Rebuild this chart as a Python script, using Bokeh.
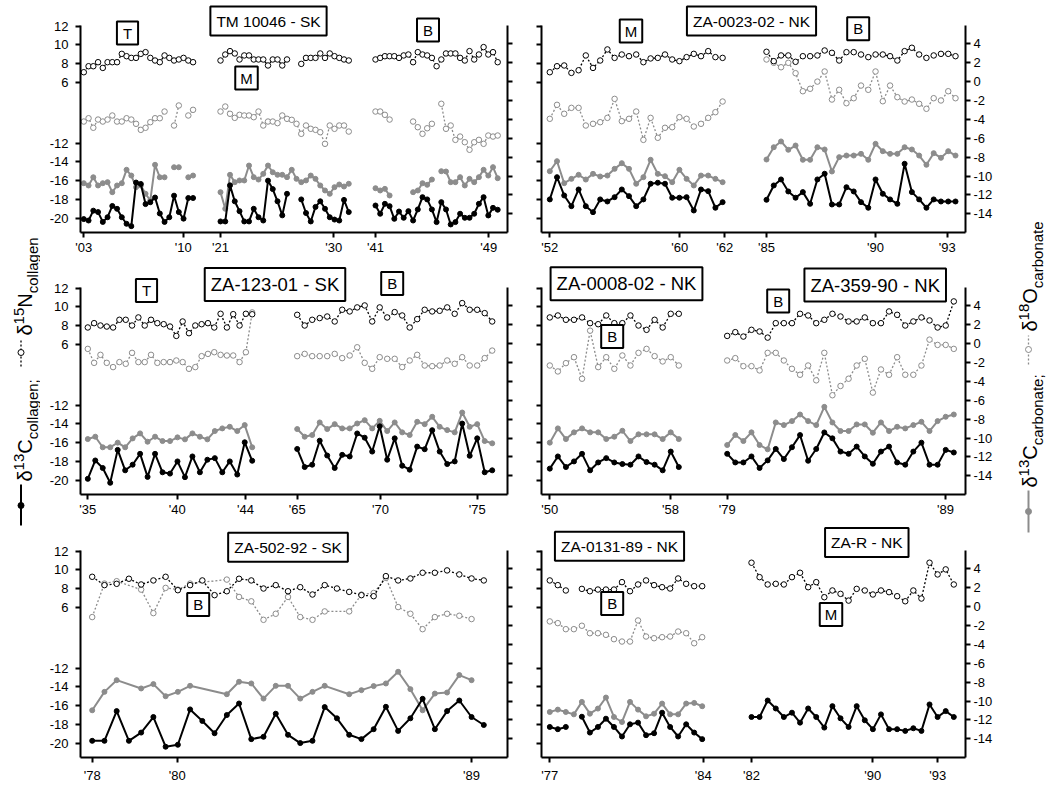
import numpy as np
from bokeh.plotting import figure
from bokeh.models import Range1d, LinearAxis, FixedTicker, Label
from bokeh.layouts import row, column
from bokeh.embed import file_html
from bokeh.resources import INLINE
from bokeh.core.properties import value

FONT = "Liberation Sans"
GRAY = "#8c8c8c"

# ---------------- axis tick values ----------------
N_TICKS = [12, 10, 8, 6]
C_TICKS = [-12, -14, -16, -18, -20]
CARB_TICKS = [4, 2, 0, -2, -4, -6, -8, -10, -12, -14]

# ---------------- Panel 1: TM 10046 - SK ----------------
P1_SEGS = [(3.3, 112.55), (140, 268.25), (295, 417.2)]
P1_TICKS = [3.3, 102.7, 140, 253.3, 295, 408.3]
P1_TICK_LABELS = ["'03", "'10", "'21", "'30", "'41", "'49"]
P1A_C = [-20.1, -20.25, -19.2, -19.35, -20.4, -19.9, -18.7, -19.0, -19.9, -20.6, -20.85, -16.2, -16.35, -18.5, -18.3, -17.8, -19.5, -20.4, -19.9, -17.6, -19.35, -20.05, -17.85, -17.85]
P1A_N = [7.07, 7.71, 7.71, 8.14, 7.53, 8.14, 8.14, 8.14, 9.03, 8.78, 8.6, 8.6, 9.03, 9.21, 8.6, 8.32, 8.14, 8.86, 8.6, 8.32, 8.43, 8.6, 8.32, 8.14]
P1A_C13 = [-10.76, -11.0, -10.13, -11.0, -10.76, -10.65, -11.71, -11.0, -10.76, -9.34, -9.95, -11.18, -11.0, -11.88, -12.59, -8.81, -10.13, -10.13, None, -9.07, -9.07, None, -10.13, -9.95]
P1A_O18 = [-4.23, -3.88, -4.89, -4.02, -4.23, -4.02, -3.59, -4.23, -4.23, -3.88, -4.02, -4.47, -5.11, -4.89, -4.3, -3.88, -3.88, -3.17, None, -4.65, -2.53, None, -3.59, -2.99]
P1B_C = [-20.35, -20.35, -16.5, -18.2, -19.25, -20.35, -20.35, -19.0, -19.9, -20.25, -16.0, -16.9, -18.2, -19.7, -17.4, None, None, -18.0, -19.45, -20.35, -18.8, -18.2, -19.0, -19.9, -20.15, -20.25, -18.05, -19.35]
P1B_N = [8.32, 8.96, 9.32, 9.07, 8.43, 8.86, 8.86, 8.43, 8.43, 8.43, 7.79, 8.43, 8.43, 7.79, 8.43, None, None, 7.96, 8.6, 8.6, 8.6, 9.07, 8.6, 9.07, 8.78, 8.6, 8.43, 8.32]
P1B_C13 = [-11.71, -13.47, -9.87, -10.65, -10.47, -10.47, -8.89, -10.12, -10.37, -9.77, -8.89, -9.6, -9.87, -9.87, -10.12, -9.34, -10.3, -10.65, -10.47, -9.95, -10.3, -11.0, -11.53, -11.88, -11.18, -10.9, -11.11, -10.82]
P1B_O18 = [-3.17, -2.64, -3.41, -3.84, -3.52, -3.59, -3.59, -3.77, -3.17, -4.65, -4.23, -4.23, -4.4, -3.59, -3.94, -4.05, -4.47, -5.53, -4.65, -5.0, -5.11, -5.36, -6.59, -4.65, -5.0, -4.65, -4.65, -5.29]
P1C_C = [-18.65, -19.53, -18.47, -18.72, -20.07, -19.29, -19.96, -19.25, -20.25, -19.07, -17.76, -18.0, -19.07, -20.42, -18.29, -19.07, -20.67, -20.42, -19.53, -19.96, -19.96, -19.53, -18.47, -17.76, -19.71, -18.9, -19.1]
P1C_N = [8.43, 8.6, 8.78, 8.78, 8.78, 8.6, 8.86, 8.96, 8.14, 9.21, 8.96, 8.86, 8.6, 7.71, 8.43, 9.07, 9.07, 9.07, 8.6, 8.32, 9.32, 8.43, 8.96, 9.75, 8.96, 9.21, 8.14]
P1C_C13 = [-11.29, -11.53, -11.36, -12.06, None, None, None, None, -11.71, -11.53, -10.76, -10.93, -10.37, None, -9.49, -9.52, -10.65, -10.65, -10.12, -11.0, -10.3, -10.65, -10.12, -9.34, -9.95, -9.06, -10.23]
P1C_O18 = [-3.17, -3.17, -3.52, -4.02, None, None, None, None, -4.23, -4.83, -5.53, -4.94, -4.47, None, -2.35, -5.0, -4.65, -6.17, -5.82, -6.42, -7.22, -6.42, -6.17, -6.59, -5.71, -5.82, -5.71]

# ---------------- Panel 2: ZA-0023-02 - NK ----------------
P2_SEGS = [(8.3, 181.1), (225, 414)]
P2_TICKS = [8.3, 138.3, 183.3, 225, 334, 405.7]
P2_TICK_LABELS = ["'52", "'60", "'62", "'85", "'90", "'93"]
P2A_C = [-18.0, -15.63, -17.58, -18.72, -16.94, -18.72, -19.36, -18.0, -18.22, -17.76, -16.94, -17.65, -18.72, -18.0, -16.33, -16.22, -16.33, -17.82, -17.82, -17.76, -19.18, -16.94, -17.12, -18.89, -18.29]
P2A_N = [7.07, 7.71, 7.79, 7.0, 7.28, 8.86, 7.53, 8.32, 9.5, 8.6, 8.96, 8.78, 8.96, 8.14, 8.54, 8.6, 8.96, 8.43, 8.25, 8.68, 9.03, 8.78, 9.32, 8.68, 8.6]
P2A_C13 = [-9.49, -8.43, -10.76, -10.3, -9.87, -10.37, -9.77, -10.05, -9.95, -9.24, -8.64, -9.24, -10.82, -10.12, -8.28, -9.77, -10.02, -10.65, -9.34, -10.3, -11.0, -9.95, -9.95, -10.3, -10.65]
P2A_O18 = [-3.94, -2.46, -3.41, -2.78, -2.78, -4.65, -4.47, -4.3, -3.84, -1.83, -4.19, -3.94, -3.17, -6.17, -3.84, -5.95, -4.89, -4.83, -3.77, -3.94, -4.76, -4.47, -3.84, -3.24, -2.11]
P2B_C = [-18.04, -16.51, -15.87, -17.15, -17.82, -17.22, -18.47, -15.87, -15.26, -18.54, -18.54, -16.7, -17.15, -18.29, -18.89, -15.87, -17.4, -18.0, -18.47, -14.2, -17.22, -18.0, -18.89, -18.0, -18.22, -18.22, -18.22]
P2B_N = [9.25, 8.25, 8.86, 8.86, 8.18, 8.78, 8.78, 8.86, 9.39, 9.14, 8.32, 9.21, 9.21, 8.96, 8.68, 8.96, 8.96, 8.78, 8.32, 9.32, 9.68, 8.96, 8.6, 8.86, 9.03, 9.03, 8.78]
P2B_C13 = [-8.25, -6.95, -6.34, -7.22, -6.77, -8.28, -8.28, -6.95, -7.19, -9.52, -8.0, -7.83, -7.83, -7.65, -8.28, -6.59, -7.37, -7.65, -7.65, -6.95, -7.19, -7.83, -8.81, -7.58, -8.07, -7.37, -7.83]
P2B_O18 = [2.34, 1.99, 1.52, 1.99, 0.89, -1.02, -0.76, 0.0, 1.07, -1.9, -0.87, -2.29, -1.76, -0.42, -0.87, 1.07, -2.08, -0.42, -1.65, -2.11, -1.9, -2.35, -2.88, -1.76, -2.0, -1.02, -1.76]

# ---------------- Panel 3: ZA-123-01 - SK ----------------
P3_SEGS = [(7.3, 171.7), (216.7, 411.7)]
P3_TICKS = [7.3, 96.7, 165, 216.7, 300, 396.7]
P3_TICK_LABELS = ["'35", "'40", "'44", "'65", "'70", "'75"]
P3A_C = [-19.86, -17.9, -18.7, -20.28, -16.77, -18.95, -18.35, -17.19, -19.65, -17.19, -19.16, -19.3, -18.0, -19.68, -17.47, -19.16, -17.82, -17.65, -19.16, -18.0, -19.4, -15.96, -17.93]
P3A_N = [7.79, 8.25, 8.0, 7.89, 7.79, 8.61, 8.61, 8.0, 8.86, 8.0, 8.61, 8.25, 8.14, 7.89, 6.89, 8.43, 7.18, 8.0, 8.14, 8.25, 7.79, 9.25, 7.79, 9.21, 8.0, 9.25, 9.2]
P3A_C13 = [-10.11, -9.86, -10.98, -10.98, -10.49, -10.98, -10.04, -9.51, -10.39, -9.86, -10.32, -10.32, -9.93, -10.14, -9.51, -9.86, -10.14, -9.26, -8.98, -8.81, -9.26, -8.63, -10.98]
P3A_O18 = [-0.56, -2.04, -1.19, -2.04, -2.49, -1.96, -2.14, -0.98, -1.96, -1.96, -1.19, -2.04, -1.96, -1.96, -1.79, -1.96, -2.67, -2.49, -1.33, -1.09, -0.91, -1.19, -1.26, -1.26, -1.96, -0.91, 3.3]
P3B_C = [-16.67, -18.6, -18.35, -15.79, -17.37, -18.7, -17.3, -17.47, -15.02, -15.47, -16.95, -14.25, -17.82, -15.54, -18.46, -18.88, -16.42, -16.7, -14.67, -16.95, -18.28, -18.0, -13.96, -17.4, -15.54, -19.16, -18.95]
P3B_N = [9.14, 8.0, 8.61, 8.79, 8.96, 8.43, 9.68, 9.5, 9.93, 10.14, 8.43, 9.93, 8.86, 9.43, 9.07, 7.79, 8.68, 9.68, 9.5, 9.57, 9.93, 9.25, 10.39, 9.68, 9.68, 9.32, 8.43]
P3B_C13 = [-9.05, -9.86, -9.68, -8.35, -9.05, -8.53, -8.98, -8.98, -8.46, -8.11, -8.98, -8.18, -9.26, -8.35, -9.4, -9.68, -8.28, -8.53, -7.75, -8.81, -9.16, -9.4, -7.3, -8.81, -8.53, -10.32, -10.56]
P3B_O18 = [-1.33, -1.09, -1.33, -1.33, -1.33, -1.09, -1.54, -1.26, -0.39, -2.04, -2.67, -1.44, -1.61, -1.61, -2.49, -1.79, -1.19, -2.32, -2.39, -2.32, -1.79, -2.14, -1.44, -2.32, -2.32, -1.54, -0.74]

# ---------------- Panel 4: ZA-0008-02 - NK / ZA-359-90 - NK ----------------
P4_SEGS = [(8.3, 137.3), (185.7, 412.3)]
P4_TICKS = [8.3, 129, 185.7, 404]
P4_TICK_LABELS = ["'50", "'58", "'79", "'89"]
P4A_C = [-18.77, -17.47, -18.6, -18.0, -17.19, -18.95, -18.11, -17.65, -18.11, -18.28, -18.35, -17.47, -18.07, -18.35, -18.95, -16.95, -18.6]
P4A_N = [8.86, 9.07, 8.61, 8.61, 8.86, 8.25, 8.14, 9.07, 8.25, 8.25, 9.07, 8.0, 7.54, 8.61, 7.79, 9.25, 9.25]
P4A_C13 = [-10.49, -8.98, -10.11, -9.4, -8.98, -9.4, -9.4, -10.11, -9.86, -9.23, -10.32, -9.61, -9.61, -9.61, -10.11, -9.4, -10.11]
P4A_O18 = [-2.32, -2.95, -2.07, -1.44, -3.72, 1.37, -2.49, -1.44, -2.67, -1.26, -2.32, -0.98, -0.56, -1.33, -1.89, -1.44, -2.32]
P4B_C = [-17.19, -18.11, -18.11, -17.47, -18.7, -17.89, -16.67, -17.75, -16.49, -15.19, -17.93, -16.67, -14.91, -15.54, -16.95, -17.19, -16.42, -17.47, -18.25, -16.95, -16.42, -18.11, -18.35, -16.95, -16.0, -18.35, -18.35, -16.77, -17.05]
P4B_N = [6.89, 7.29, 6.82, 7.54, 7.36, 6.71, 8.25, 8.25, 8.25, 9.25, 9.07, 8.25, 8.61, 9.25, 8.96, 8.43, 8.43, 8.86, 8.25, 8.25, 9.5, 9.14, 8.0, 8.43, 8.86, 8.54, 7.79, 8.0, 10.57]
P4B_C13 = [-10.74, -9.68, -10.32, -9.4, -10.74, -11.19, -8.35, -8.63, -8.21, -7.51, -8.21, -8.63, -6.7, -8.35, -9.26, -9.26, -8.56, -8.56, -9.44, -8.35, -9.26, -8.81, -8.98, -8.63, -8.28, -9.26, -8.21, -7.75, -7.51]
P4B_O18 = [-1.79, -1.54, -2.39, -2.39, -2.84, -0.98, -0.98, -1.79, -2.67, -3.3, -2.32, -3.89, -0.98, -5.47, -4.49, -3.72, -2.32, -1.61, -5.19, -2.74, -3.3, -1.44, -3.3, -3.3, -2.32, 0.42, -0.14, -0.14, -0.56]

# ---------------- Panel 5: ZA-502-92 - SK ----------------
P5_SEGS = [(11.7, 403.3)]
P5_TICKS = [11.7, 96.7, 391]
P5_TICK_LABELS = ["'78", "'80", "'89"]
P5_C = [-19.75, -19.75, -16.58, -19.75, -18.87, -17.21, -20.38, -20.17, -16.4, -17.63, -18.94, -17.0, -15.77, -19.57, -19.32, -16.86, -19.11, -19.99, -19.75, -16.15, -17.35, -19.11, -19.57, -18.51, -16.12, -18.69, -17.35, -15.27, -18.51, -16.58, -15.45, -17.21, -18.06]
P5_N = [9.25, 8.36, 8.5, 9.04, 8.43, 8.86, 9.25, 7.82, 8.36, 8.86, 7.29, 7.71, 9.04, 8.86, 8.0, 8.36, 7.71, 8.14, 7.36, 8.36, 8.0, 7.64, 7.29, 7.18, 9.32, 8.86, 9.07, 9.68, 9.68, 9.93, 9.5, 9.07, 8.86]
P5_CARB_IDX = [0, 1, 2, 4, 5, 6, 7, 8, 11, 12, 13, 14, 15, 16, 17, 18, 19, 21, 22, 23, 24, 25, 26, 27, 28, 29, 30, 31]
P5_C13 = [-10.98, -9.03, -7.79, -8.67, -8.21, -9.49, -9.03, -8.39, -9.28, -7.96, -8.14, -9.74, -8.39, -8.39, -9.74, -9.03, -8.39, -9.28, -8.85, -8.42, -8.14, -6.9, -8.74, -10.98, -9.21, -9.1, -7.25, -7.79]
P5_O18 = [-1.11, 2.44, 2.69, 1.8, -0.69, 1.98, 1.8, 2.44, 2.86, 1.02, 0.56, -1.4, -0.76, 1.02, -1.11, -1.4, -0.51, -0.51, 1.27, 1.44, 3.04, -0.05, -0.76, -2.39, -1.11, -0.76, -0.97, -1.32]

# ---------------- Panel 6: ZA-0131-89 - NK / ZA-R - NK ----------------
P6_SEGS = [(8.3, 160.7), (210, 412.3)]
P6_TICKS = [8.3, 161.7, 210, 331.3, 396.3]
P6_TICK_LABELS = ["'77", "'84", "'82", "'90", "'93"]
P6A_C = [-18.27, -18.51, -18.27, None, -17.18, -18.87, -18.27, -17.39, -18.27, -19.29, -17.99, -17.81, -19.15, -18.94, -16.75, -18.27, -19.29, -17.99, -18.87, -19.57]
P6A_N = [8.86, 8.36, 7.79, None, 7.96, 7.71, 7.89, 7.89, 7.89, 8.68, 7.71, 8.43, 8.86, 8.36, 8.14, 8.0, 9.07, 8.5, 8.25, 8.25]
P6A_C13 = [-11.16, -10.91, -11.16, -11.41, -10.09, -11.34, -10.8, -9.63, -11.69, -12.22, -10.09, -10.91, -11.62, -11.34, -10.27, -11.41, -11.41, -10.27, -10.2, -10.55]
P6A_O18 = [-1.57, -1.75, -2.39, -2.39, -2.03, -2.82, -2.82, -2.99, -3.45, -3.7, -3.7, -1.47, -3.17, -3.35, -3.24, -3.17, -2.64, -2.82, -3.88, -3.24]
P6B_C = [-17.21, -17.21, -15.45, -16.3, -17.21, -16.75, -17.81, -16.3, -17.21, -18.34, -16.05, -17.35, -18.27, -16.05, -17.56, -18.51, -16.93, -18.51, -18.51, -18.69, -18.41, -18.69, -15.87, -17.21, -16.58, -17.21]
P6B_N = [10.75, 9.21, 8.43, 8.5, 8.43, 9.21, 9.68, 8.14, 8.68, 7.07, 7.79, 7.43, 6.71, 7.96, 7.79, 7.36, 7.79, 7.61, 7.18, 6.64, 7.79, 6.93, 10.75, 9.5, 10.04, 8.43]
P6B_C13 = []
P6B_O18 = []

PANELS = [
    dict(row=0, side="L", segs=P1_SEGS, ticks=P1_TICKS, tlabels=P1_TICK_LABELS,
         C=[P1A_C, P1B_C, P1C_C], N=[P1A_N, P1B_N, P1C_N],
         C13=[P1A_C13, P1B_C13, P1C_C13], O18=[P1A_O18, P1B_O18, P1C_O18]),
    dict(row=0, side="R", segs=P2_SEGS, ticks=P2_TICKS, tlabels=P2_TICK_LABELS,
         C=[P2A_C, P2B_C], N=[P2A_N, P2B_N], C13=[P2A_C13, P2B_C13], O18=[P2A_O18, P2B_O18]),
    dict(row=1, side="L", segs=P3_SEGS, ticks=P3_TICKS, tlabels=P3_TICK_LABELS,
         C=[P3A_C, P3B_C], N=[P3A_N, P3B_N], C13=[P3A_C13, P3B_C13], O18=[P3A_O18, P3B_O18]),
    dict(row=1, side="R", segs=P4_SEGS, ticks=P4_TICKS, tlabels=P4_TICK_LABELS,
         C=[P4A_C, P4B_C], N=[P4A_N, P4B_N], C13=[P4A_C13, P4B_C13], O18=[P4A_O18, P4B_O18]),
    dict(row=2, side="L", segs=P5_SEGS, ticks=P5_TICKS, tlabels=P5_TICK_LABELS,
         C=[P5_C], N=[P5_N], C13=[P5_C13], O18=[P5_O18], carb_idx=P5_CARB_IDX),
    dict(row=2, side="R", segs=P6_SEGS, ticks=P6_TICKS, tlabels=P6_TICK_LABELS,
         C=[P6A_C, P6B_C], N=[P6A_N, P6B_N], C13=[P6A_C13, P6B_C13], O18=[P6A_O18, P6B_O18]),
]

# boxed annotations: (text, page x centre, page y centre, font px)
BOXES = {
    (0, "L"): [("T", 127, 32.5, 15), ("TM 10046 - SK", 268, 20.5, 15.5), ("M", 246, 77.5, 15), ("B", 427.5, 29.5, 15)],
    (0, "R"): [("M", 630.5, 30.5, 15), ("ZA-0023-02 - NK", 751, 20.5, 15.5), ("B", 857.7, 28.3, 15)],
    (1, "L"): [("T", 146, 290, 15), ("ZA-123-01 - SK", 274.5, 284, 18.5), ("B", 391.7, 283, 15)],
    (1, "R"): [("ZA-0008-02 - NK", 626, 283.3, 18.5), ("B", 611.7, 336, 15), ("B", 777.7, 300.5, 15),
               ("ZA-359-90 - NK", 874.7, 284.5, 18.5)],
    (2, "L"): [("ZA-502-92 - SK", 287.5, 546.8, 15.5), ("B", 197.7, 604, 15)],
    (2, "R"): [("ZA-0131-89 - NK", 619, 545.8, 15.5), ("B", 611.7, 603, 15), ("ZA-R - NK", 866.3, 542, 15.5),
               ("M", 830.5, 614, 15)],
}

# ---------------- geometry (page pixels; the Bokeh page has no body margin) ----------------
N_SHIFT = 11.5
C_LIM = (-21.53, 0.555)
CARB_LIM = (-15.98, 5.94)
FH = 207
FW = {"L": 427, "R": 424}
FRAME_LEFT = {"L": 80, "R": 541}
FRAME_TOP = [25, 287, 550]          # page y of the top of each axis
FIG_TOP = [0, 259, 521]             # page y where each row of figures starts
BOTTOM_BORDER = [27, 27, 28]
X_STANDOFF = [2, 2, 5]
SIDE_BORDERS = {"L": (40, 17), "R": (17, 31)}
C_SCALE = FH / (C_LIM[1] - C_LIM[0])
CARB_SCALE = FH / (CARB_LIM[1] - CARB_LIM[0])
TOTAL_H = 785
EM = {"δ": 0.556, "C": 0.722, "N": 0.722, "O": 0.778, "T": 0.611, "M": 0.833, "B": 0.667,
      "c": 0.5, "o": 0.556, "l": 0.222, "a": 0.556, "g": 0.556, "e": 0.556, "n": 0.556,
      "r": 0.333, "b": 0.556, "t": 0.278, ";": 0.278, " ": 0.278}


def text_w(t, size):
    return sum(EM.get(ch, 0.556) for ch in t) * size


def arr(vals):
    return np.array([np.nan if v is None else v for v in vals], dtype=float)


def style_axis(ax, font_size="13px", standoff=5):
    ax.axis_line_width = 2
    ax.axis_line_color = "black"
    ax.major_tick_line_width = 2
    ax.major_tick_line_color = "black"
    ax.major_tick_in = 0
    ax.major_tick_out = 5
    ax.minor_tick_line_color = None
    ax.major_label_text_font = FONT
    ax.major_label_text_font_size = font_size
    ax.major_label_text_color = "black"
    ax.major_label_standoff = standoff


STYLE = {
    "O18": dict(rng="carb", color=GRAY, dash="2 2", lw=1.3, fill="white", size=5.5),
    "N": dict(rng="n", color="black", dash="2 2", lw=1.3, fill="white", size=5.5),
    "C13": dict(rng="carb", color=GRAY, dash="solid", lw=2, fill=GRAY, size=5),
    "C": dict(rng="default", color="black", dash="solid", lw=2, fill="black", size=5),
}


def make_panel(spec):
    side, r = spec["side"], spec["row"]
    fw = FW[side]
    bl, br = SIDE_BORDERS[side]
    ext = FRAME_TOP[r] - FIG_TOP[r]            # room above the axes for the boxed labels
    c_end = C_LIM[1] + ext / C_SCALE
    carb_end = CARB_LIM[1] + ext / CARB_SCALE
    p = figure(frame_width=fw, frame_height=FH + ext, x_range=Range1d(0, fw),
               y_range=Range1d(C_LIM[0], c_end),
               output_backend="svg", toolbar_location=None, title=None,
               x_axis_type=None, y_axis_type=None,
               min_border_left=bl, min_border_right=br, min_border_top=0,
               min_border_bottom=BOTTOM_BORDER[r])
    p.outline_line_color = None
    p.extra_y_ranges = {"n": Range1d(C_LIM[0] + N_SHIFT, c_end + N_SHIFT),
                        "carb": Range1d(CARB_LIM[0], carb_end)}

    # collagen axis (broken scale: δ15N on top, δ13C below)
    col_ticks = [n - N_SHIFT for n in N_TICKS] + C_TICKS
    col_ax = LinearAxis(ticker=FixedTicker(ticks=col_ticks), bounds=C_LIM)
    style_axis(col_ax, standoff=7)
    if side == "L":
        ov = {n - N_SHIFT: str(n) for n in N_TICKS}
        ov.update({c: str(c) for c in C_TICKS})
    else:
        ov = {t: "" for t in col_ticks}
    col_ax.major_label_overrides = ov
    p.add_layout(col_ax, "left")

    carb_ax = LinearAxis(y_range_name="carb", ticker=FixedTicker(ticks=CARB_TICKS), bounds=CARB_LIM)
    style_axis(carb_ax, standoff=3)
    if side == "R":
        carb_ax.major_label_overrides = {t: str(t) for t in CARB_TICKS}
    else:
        carb_ax.major_label_overrides = {t: "" for t in CARB_TICKS}
    p.add_layout(carb_ax, "right")

    xax = LinearAxis(ticker=FixedTicker(ticks=spec["ticks"]))
    style_axis(xax, font_size="13px", standoff=X_STANDOFF[r])
    xax.major_label_overrides = dict(zip(spec["ticks"], spec["tlabels"]))
    p.add_layout(xax, "below")

    for kind in ["O18", "N", "C13", "C"]:
        st = STYLE[kind]
        for si, (seg, vals) in enumerate(zip(spec["segs"], spec[kind])):
            if not vals:
                continue
            if kind in ("C13", "O18") and "carb_idx" in spec:
                grid = np.linspace(seg[0], seg[1], len(spec["C"][si]))
                x = grid[np.array(spec["carb_idx"])]
            else:
                x = np.linspace(seg[0], seg[1], len(vals))
            y = arr(vals)
            p.line(x, y, line_color=st["color"], line_width=st["lw"], line_dash=st["dash"],
                   y_range_name=st["rng"])
            p.scatter(x, y, marker="circle", size=st["size"], fill_color=st["fill"],
                      line_color=st["color"], line_width=1, y_range_name=st["rng"])

    fl, ft = FRAME_LEFT[side], FRAME_TOP[r]
    for text, px, py, fs in BOXES[(r, side)]:
        if len(text) == 1:
            pad = (max(1, int(round((22 - text_w(text, fs)) / 2))), 3)
        else:
            pad = (6, 6)
        lab = Label(x=px - fl, y=C_LIM[1] - (py - ft) / C_SCALE, text=text,
                    text_font=FONT, text_font_size=f"{fs}px", text_color="black",
                    text_align="center", text_baseline="middle",
                    border_line_color="black", border_line_width=2,
                    background_fill_color="white", padding=pad)
        p.add_layout(lab)
    return p


panels = {(s["row"], s["side"]): make_panel(s) for s in PANELS}

# ---------------- side strips with the rotated axis titles ----------------


def make_strip(width):
    s = figure(width=width, height=TOTAL_H, x_range=Range1d(0, width), y_range=Range1d(0, TOTAL_H),
               output_backend="svg", toolbar_location=None, title=None,
               x_axis_type=None, y_axis_type=None, min_border=0)
    s.outline_line_color = None
    return s


def vtext(s, x0, pieces, y_start):
    y = y_start
    for txt, size, xb in pieces:
        s.text(x=[xb - x0], y=[TOTAL_H - y], text=[txt], angle=np.pi / 2,
               text_align="left", text_baseline="alphabetic",
               text_font=value(FONT), text_font_size=value(f"{size}px"), text_color="black")
        y -= text_w(txt, size)


def swatch(s, x0, xpage, y_bot, y_top, y_mark, color, dash, fill, size):
    s.line([xpage - x0, xpage - x0], [TOTAL_H - y_bot, TOTAL_H - y_top], line_color=color,
           line_width=2 if dash == "solid" else 1.3, line_dash=dash)
    s.scatter([xpage - x0], [TOTAL_H - y_mark], marker="circle", size=size, fill_color=fill,
              line_color=color, line_width=1)


BIG, SMALL = 20, 15
left = make_strip(40)
LX0 = 0
bx, sup, sub = 24, 18, 32
swatch(left, LX0, 20.5, 525, 484, 505, "black", "solid", "black", 6)
vtext(left, LX0, [("δ", BIG, bx), ("13", SMALL, sup), ("C", BIG, bx), ("collagen;", SMALL, sub)], 481)
swatch(left, LX0, 20.5, 366, 339, 352, "black", "2 2", "white", 6)
vtext(left, LX0, [("δ", BIG, bx), ("15", SMALL, sup), ("N", BIG, bx), ("collagen", SMALL, sub)], 335)

right = make_strip(50)
RX0 = 996
bx, sup, sub = 1029, 1023, 1037
swatch(right, RX0, 1028, 532, 490, 511, GRAY, "solid", GRAY, 6)
vtext(right, RX0, [("δ", BIG, bx), ("13", SMALL, sup), ("C", BIG, bx), ("carbonate;", SMALL, sub)], 487)
swatch(right, RX0, 1028, 364, 335, 349, GRAY, "2 2", "white", 6)
vtext(right, RX0, [("δ", BIG, bx), ("18", SMALL, sup), ("O", BIG, bx), ("carbonate", SMALL, sub)], 331)

grid = column(
    row(panels[(0, "L")], panels[(0, "R")]),
    row(panels[(1, "L")], panels[(1, "R")]),
    row(panels[(2, "L")], panels[(2, "R")]),
)
layout = row(left, grid, right)

open("out.html", "w").write(file_html(layout, INLINE, title="isotopes"))
